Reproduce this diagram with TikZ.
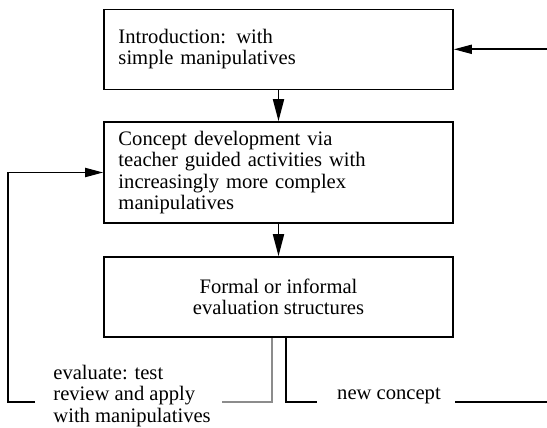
\documentclass[tikz,border=0pt]{standalone}
\usepackage{fontspec}
\setmainfont{Liberation Serif}
\usetikzlibrary{arrows.meta}
\begin{document}
\begin{tikzpicture}[x=0.5pt,y=-0.5pt,
  txt/.style={font=\fontsize{10.3}{10.6}\selectfont},
  box/.style={draw, line width=0.8pt, minimum width=174.5pt, txt, inner sep=0pt},
  conn/.style={line width=0.9pt},
  arr/.style={conn, -{Triangle[length=11pt,width=5.5pt]}},
  harr/.style={conn, -{Triangle[length=9pt,width=4.5pt]}},
  fb/.style={line width=0.9pt, draw=black!45}]
\useasboundingbox (0,0) rectangle (547,428);
\node[box, minimum height=40pt, text width=160pt, align=left] (b1) at (278.5,49.3)
  {Introduction: with\\simple manipulatives};
\node[box, minimum height=50.5pt, text width=160pt, align=left] (b2) at (278.5,172.5)
  {Concept development via\\teacher guided activities with\\increasingly more complex\\manipulatives};
\node[box, minimum height=40pt, align=center] (b3) at (278.5,297)
  {Formal or informal\\evaluation structures};
\node[txt, anchor=west, align=left, inner sep=0pt] (ev) at (53,396)
  {evaluate: test\\review and apply\\with manipulatives};
\node[txt, anchor=center, inner sep=0pt] (nc) at (389,396) {new concept};
\coordinate (L0) at (35,401.7);
\coordinate (L1) at (8,401.7);
\coordinate (G0) at (222,401.7);
\coordinate (G1) at (272,401.7);
\coordinate (N0) at (286,401.7);
\coordinate (N1) at (317,401.7);
\coordinate (R0) at (455,401.7);
\coordinate (R1) at (547,401.7);
\coordinate (R2) at (547,49.3);
\draw[arr] (b1.south) -- (b2.north);
\draw[arr] (b2.south) -- (b3.north);
\draw[harr] (L0) -- (L1) |- (b2.west);
\draw[fb] (G0) -- (G1) -- (G1 |- b3.south);
\draw[conn] (N0 |- b3.south) -- (N0) -- (N1);
\draw[conn] (R0) -- (R1);
\draw[harr] (R2) -- (b1.east);
\end{tikzpicture}
\end{document}
